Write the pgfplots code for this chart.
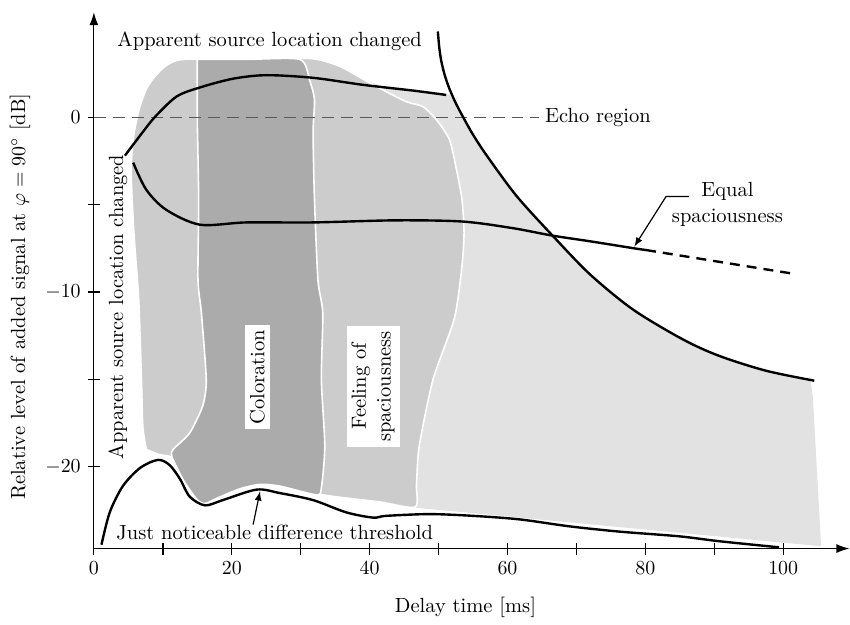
\documentclass[border=0pt]{standalone}
\usepackage{pgfplots}
\pgfplotsset{compat=1.18}
\usetikzlibrary{arrows.meta}
\definecolor{lightreg}{gray}{0.885}
\definecolor{midreg}{gray}{0.80}
\definecolor{darkreg}{gray}{0.67}
\definecolor{echogray}{gray}{0.35}
\begin{document}
\fontsize{10.3}{12.4}\selectfont
\begin{tikzpicture}
\begin{axis}[
  scale only axis, width=378.1bp, height=268.4bp,
  xmin=0, xmax=109.6, ymin=-24.67, ymax=6.0,
  axis lines=left,
  axis line style={line width=0.6pt, -{Latex[length=6.5bp,width=4.5bp]}},
  xtick={0,20,...,100}, minor xtick={10,30,...,90},
  ytick={-20,-10,0}, minor ytick={-15,-5},
  extra x ticks={10}, extra x tick labels={},
  extra x tick style={tick style={line width=1.3pt}},
  tick align=center, major tick length=6bp, minor tick length=6bp,
  tick style={black, line width=0.6pt},
  clip=false,
]
% bounding box to reference proportions
\path (axis cs:-13.62,6.70) rectangle (axis cs:109.57,-28.67);

% lightest region
\addplot[fill=lightreg, draw=none] coordinates {
 (20,3.0) (38,2.3) (42,1.75) (46.3,1.45) (51.6,1.3)
 (52.5,0.8) (53.5,0.05) (55.0,-1.0) (57.0,-2.2) (61.3,-4.5) (66.6,-6.8) (72.0,-9.0)
 (78.2,-11.0) (85.4,-12.7) (90.7,-13.65) (97.5,-14.5) (104.0,-15.1)
 (104.3,-16.0) (105.5,-24.54) (46.8,-22.34) (20,-20)
} -- cycle;

% medium region
\addplot[fill=midreg, draw=white, line width=0.8pt, smooth, tension=0.4] coordinates {
 (7.6,-19.0) (7.1,-17.7) (6.9,-15.0) (6.5,-10.4) (5.8,-6.6) (5.4,-3.0)
 (5.8,-1.0) (6.6,0.5) (7.6,1.6) (8.8,2.3) (10.5,2.95) (12.9,3.3) (22,3.32) (31.5,3.35)
 (35.7,2.9) (40.5,1.85) (45.3,0.89) (47.7,0.61) (49.7,-0.15) (51.6,-1.3)
 (52.6,-3.0) (53.4,-4.7) (53.7,-6.6) (53.4,-8.5) (52.3,-11.5) (49.2,-15.0)
 (47.2,-18.8) (46.8,-21.0) (46.6,-22.3) (41.4,-22.0) (33.2,-21.6) (24,-20.8)
 (16,-20.5) (12.5,-19.8) (11,-19.4) (9.5,-19.3) (7.6,-19.0)
};

% dark region (coloration)
\addplot[fill=darkreg, draw=white, line width=0.8pt, smooth, tension=0.4] coordinates {
 (15.0,3.3) (22,3.3) (29.9,3.3) (31.3,2.1) (32.0,1.0) (31.8,-0.9) (32.0,-4.7)
 (32.5,-9.3) (33.2,-11.2) (33.0,-15.0) (33.5,-18.8) (33.0,-21.2) (32.3,-21.6)
 (27.0,-21.1) (24.1,-21.0) (21.2,-21.25) (17.8,-21.8) (16.1,-22.1) (14.9,-21.85)
 (12.9,-20.7) (11.3,-19.4) (11.5,-19.0) (13.9,-18.06) (15.8,-16.5) (16.3,-15.0)
 (15.6,-11.2) (15.1,-9.3) (15.2,-4.7) (15.0,0) (15.0,3.3)
};

% echo region dashed line
\addplot[echogray, line width=0.6pt, dash pattern=on 6bp off 3.5bp] coordinates {(0,0) (64.6,0)};

% just noticeable difference threshold
\addplot[black, line width=1.2pt, smooth, tension=0.5] coordinates {
 (1.1,-24.45) (2.3,-22.6) (4.2,-21.1) (6.7,-20.06) (9.3,-19.6) (11.0,-19.9)
 (12.5,-20.7) (13.9,-21.7) (16.1,-22.2) (18.7,-21.9) (23.6,-21.3) (27,-21.5)
 (31.8,-21.9) (36.6,-22.6) (40.5,-22.9) (42.4,-22.8) (48.7,-22.7) (55,-22.8)
 (61.7,-23.0) (69.0,-23.4) (76.2,-23.7) (84.9,-23.97) (90.7,-24.25) (99.4,-24.6)
};
% apparent source location changed (upper)
\addplot[black, line width=1.2pt, smooth, tension=0.5] coordinates {
 (4.5,-2.2) (7.0,-0.9) (8.9,0.03) (12.0,1.18) (15.4,1.7) (20.2,2.2) (25.0,2.4)
 (31.8,2.25) (39.0,1.85) (46.3,1.52) (51.1,1.27)
};
% equal spaciousness
\addplot[black, line width=1.2pt, smooth, tension=0.5] coordinates {
 (5.7,-2.6) (7.6,-4.15) (10.5,-5.3) (15.4,-6.15) (22.1,-6.02) (31.8,-6.02)
 (43.9,-5.9) (53.5,-5.97) (60.8,-6.35) (66.6,-6.78) (72,-7.1) (78.2,-7.49) (80.1,-7.6)
};
\addplot[black, line width=1.2pt, dash pattern=on 5bp off 3.5bp] coordinates {
 (80.1,-7.6) (101.4,-8.95)
};
% echo threshold
\addplot[black, line width=1.2pt, smooth, tension=0.5] coordinates {
 (49.9,4.9) (50.1,4.0) (50.4,3.2) (50.9,2.4) (51.6,1.6) (52.5,0.8) (53.5,0.05)
 (55.0,-1.0) (57.0,-2.2) (61.3,-4.5) (66.6,-6.8) (72.0,-9.0) (78.2,-11.0)
 (85.4,-12.7) (90.7,-13.65) (97.5,-14.5) (104.5,-15.07)
};

% annotations
\node at (axis cs:25.5,4.32) {Apparent source location changed};
\node[anchor=west, inner sep=0pt] at (axis cs:65.4,0) {Echo region};
\node[rotate=90] at (axis cs:3.48,-10.85) {Apparent source location changed};
\node[rotate=90, fill=white, inner sep=2.5bp] at (axis cs:23.7,-14.87) {Coloration};
\node[rotate=90, fill=white, align=center, inner sep=2.5bp] at (axis cs:40.5,-15.4) {Feeling of\\spaciousness};
\node[align=center, font=\fontsize{10.3}{13}\selectfont] at (axis cs:91.9,-5.0) {Equal\\spaciousness};
\draw[line width=0.6pt, -latex] (axis cs:86.3,-4.54) -- (axis cs:83.0,-4.54) -- (axis cs:78.4,-7.4);
\node[anchor=west, inner sep=0pt] at (axis cs:3.2,-23.77) {Just noticeable difference threshold};
\draw[line width=0.6pt, -latex] (axis cs:23.1,-23.3) -- (axis cs:24.1,-21.4);
\node at (axis cs:53.9,-28.04) {Delay time [ms]};
\node[rotate=90] at (axis cs:-10.72,-10.27) {Relative level of added signal at $\varphi = 90^\circ$ [dB]};
\end{axis}
\end{tikzpicture}
\end{document}
